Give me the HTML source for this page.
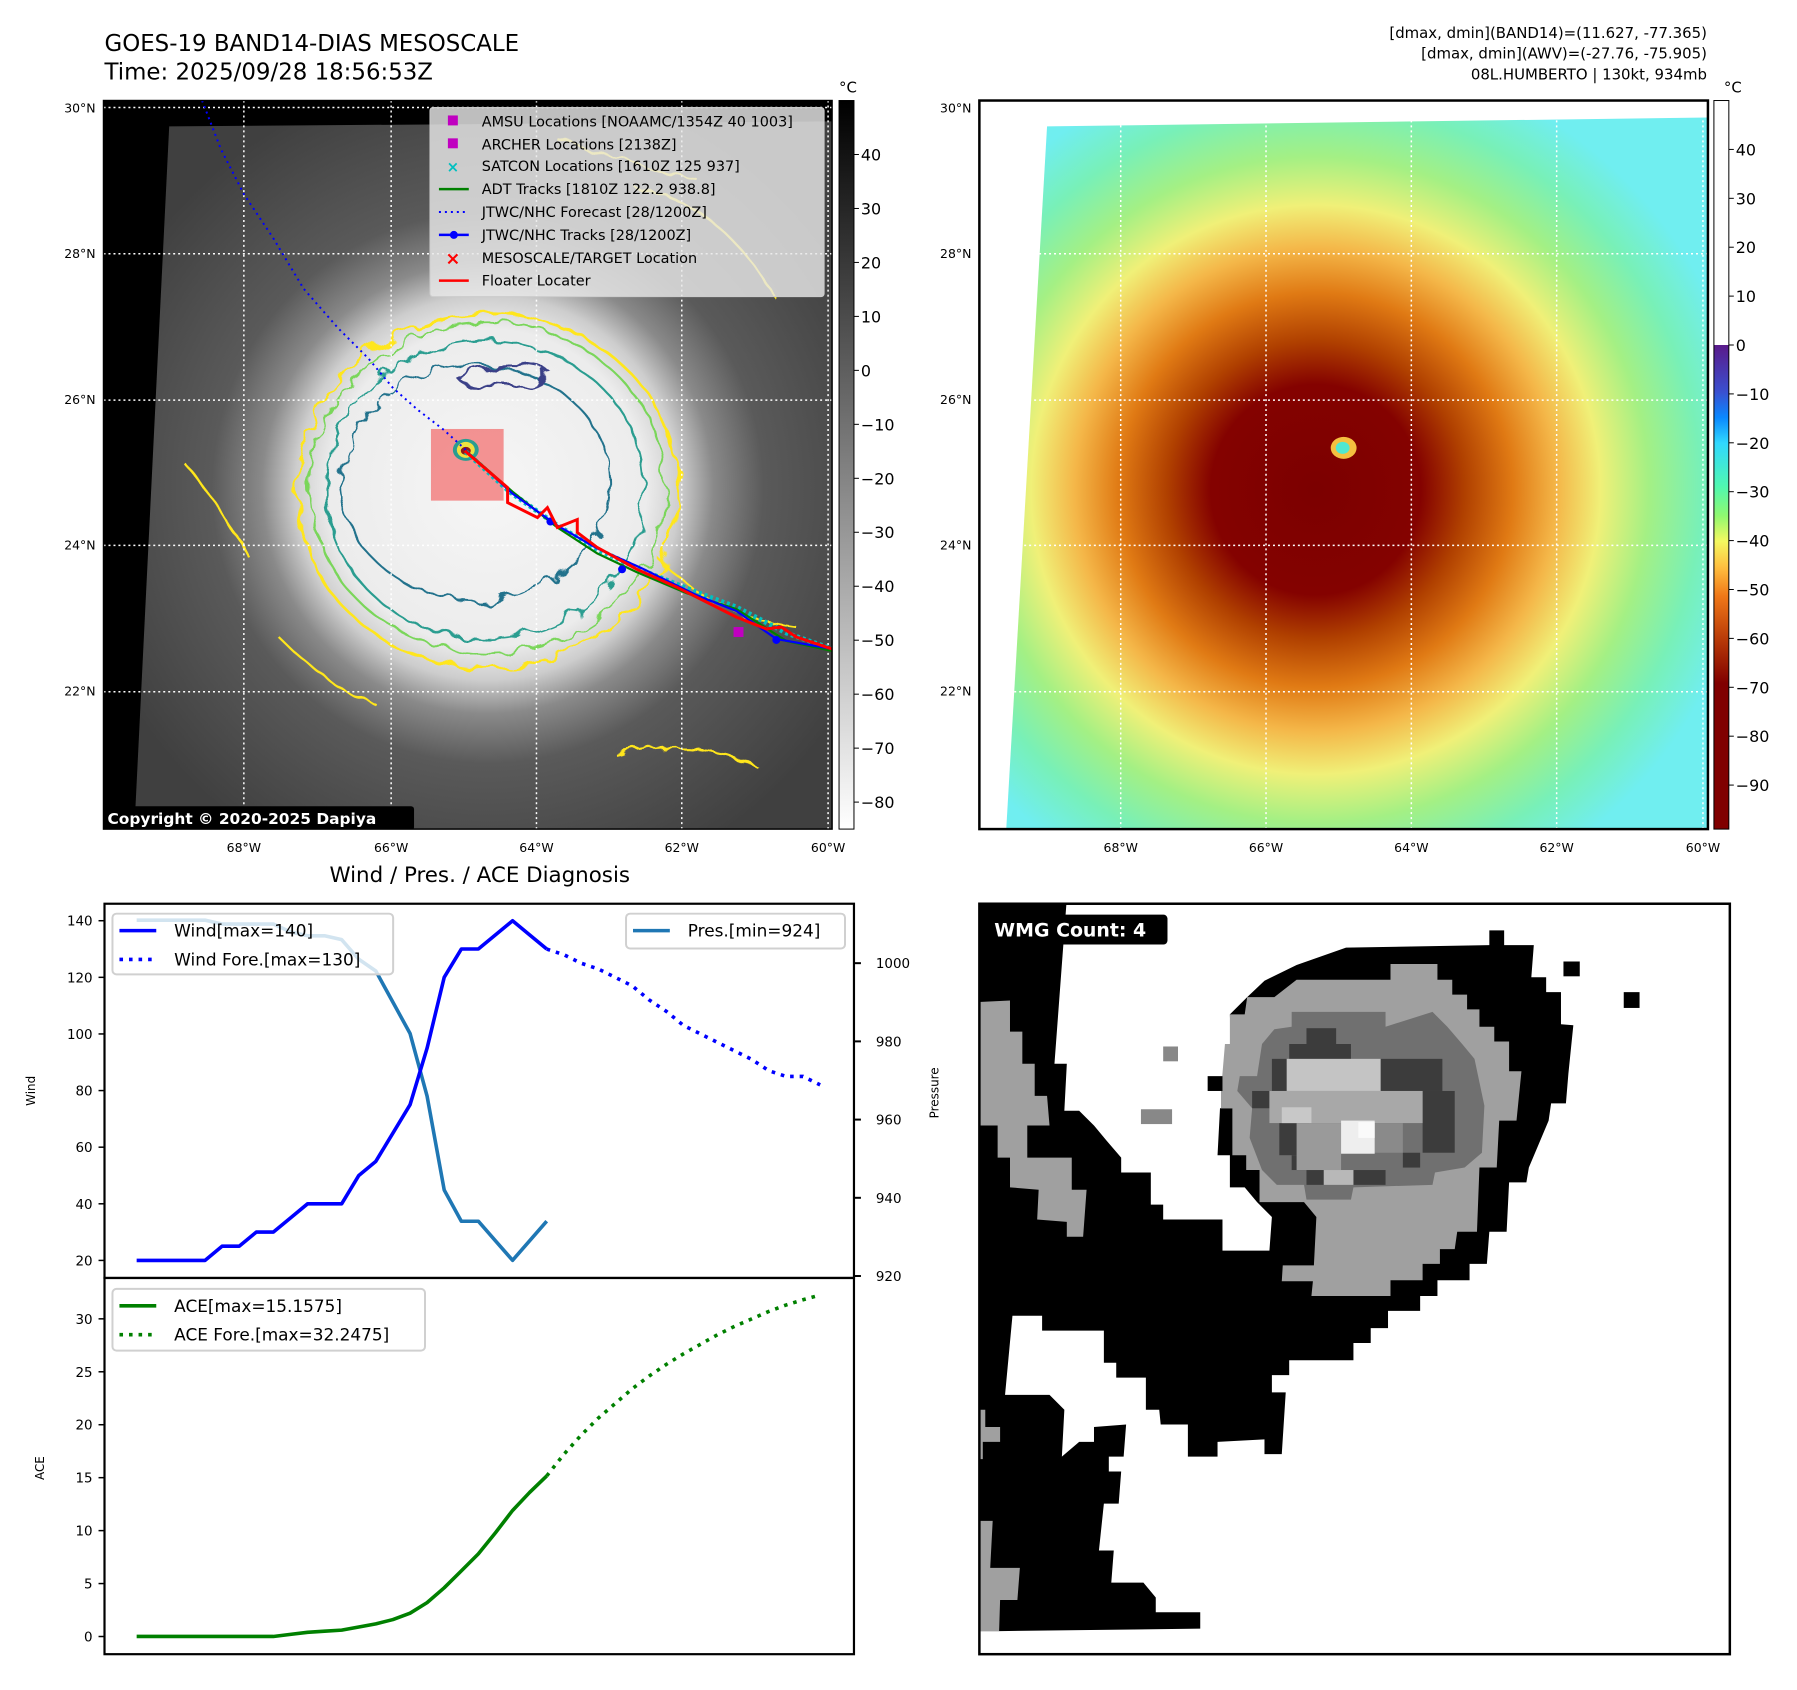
<!DOCTYPE html>
<html><head><meta charset="utf-8"><title>GOES-19 BAND14-DIAS MESOSCALE</title>
<style>
html,body{margin:0;padding:0;background:#fff;}
svg{display:block;font-family:"DejaVu Sans","Liberation Sans",sans-serif;}
</style></head>
<body>
<svg id="fig" width="1797" height="1690" viewBox="0 0 1797 1690" xmlns="http://www.w3.org/2000/svg">
<defs>
  <radialGradient id="irGrad" cx="490" cy="490" r="420" gradientUnits="userSpaceOnUse">
    <stop offset="0" stop-color="#f6f6f6"/>
    <stop offset="0.38" stop-color="#ececec"/>
    <stop offset="0.46" stop-color="#cdcdcd"/>
    <stop offset="0.54" stop-color="#8a8a8a"/>
    <stop offset="0.66" stop-color="#5a5a5a"/>
    <stop offset="1" stop-color="#404040"/>
  </radialGradient>
  <radialGradient id="awvGrad" cx="1322" cy="492" r="440" gradientUnits="userSpaceOnUse">
    <stop offset="0" stop-color="#7c0000"/>
    <stop offset="0.24" stop-color="#840200"/>
    <stop offset="0.34" stop-color="#b04000"/>
    <stop offset="0.45" stop-color="#e07a14"/>
    <stop offset="0.55" stop-color="#f4b648"/>
    <stop offset="0.65" stop-color="#f0f078"/>
    <stop offset="0.76" stop-color="#a4f084"/>
    <stop offset="0.88" stop-color="#78f0b8"/>
    <stop offset="1" stop-color="#70eef0"/>
  </radialGradient>
  <linearGradient id="cb1Grad" x1="0" y1="0" x2="0" y2="1">
    <stop offset="0" stop-color="#000"/><stop offset="1" stop-color="#fff"/>
  </linearGradient>
  <linearGradient id="cb2Grad" x1="0" y1="0" x2="0" y2="1">
    <stop offset="0" stop-color="#ffffff"/>
    <stop offset="0.3355" stop-color="#ffffff"/>
    <stop offset="0.3356" stop-color="#5a1a8a"/>
    <stop offset="0.40" stop-color="#3a50d0"/>
    <stop offset="0.435" stop-color="#0a88ff"/>
    <stop offset="0.47" stop-color="#30d8ff"/>
    <stop offset="0.53" stop-color="#50f8b0"/>
    <stop offset="0.57" stop-color="#90f870"/>
    <stop offset="0.605" stop-color="#f4f860"/>
    <stop offset="0.64" stop-color="#ffc040"/>
    <stop offset="0.68" stop-color="#f07818"/>
    <stop offset="0.74" stop-color="#b83a08"/>
    <stop offset="0.80" stop-color="#800000"/>
    <stop offset="1" stop-color="#800000"/>
  </linearGradient>
  <filter id="wig" x="-10%" y="-10%" width="120%" height="120%">
    <feTurbulence type="fractalNoise" baseFrequency="0.05" numOctaves="2" seed="3"/>
    <feDisplacementMap in="SourceGraphic" scale="18"/>
  </filter>
  <clipPath id="clip1"><rect x="104" y="101" width="732" height="732"/></clipPath>
  <clipPath id="clip2"><rect x="984" y="101" width="732" height="732"/></clipPath>
  <clipPath id="clipW"><rect x="105" y="908" width="753" height="376"/></clipPath>
  <clipPath id="clipA"><rect x="105" y="1284" width="753" height="378"/></clipPath>
  <clipPath id="clipG"><rect x="984" y="908" width="754" height="754"/></clipPath>
</defs>
<g transform="scale(0.9953)">
<!-- Titles -->
<text x="105" y="51" font-size="23" fill="#000">GOES-19 BAND14-DIAS MESOSCALE</text>
<text x="105" y="80" font-size="23" fill="#000">Time: 2025/09/28 18:56:53Z</text>
<g font-size="15" text-anchor="end" fill="#000">
  <text x="1715" y="38">[dmax, dmin](BAND14)=(11.627, -77.365)</text>
  <text x="1715" y="59">[dmax, dmin](AWV)=(-27.76, -75.905)</text>
  <text x="1715" y="80">08L.HUMBERTO | 130kt, 934mb</text>
</g>

<!-- MAP 1 (IR) -->
<g clip-path="url(#clip1)">
  <rect x="104" y="101" width="732" height="732" fill="#000"/>
  <polygon points="170,127 836,122 836,833 135,833" fill="url(#irGrad)"/>
  <g fill="none" filter="url(#wig)">
    <ellipse cx="490" cy="493" rx="192" ry="178" stroke="#ffe61a" stroke-width="2.6"/>
    <ellipse cx="490" cy="490" rx="178" ry="166" stroke="#7ad65a" stroke-width="2.2"/>
    <ellipse cx="488" cy="492" rx="160" ry="150" stroke="#2a9d90" stroke-width="2.2"/>
    <ellipse cx="478" cy="485" rx="135" ry="118" stroke="#22728c" stroke-width="2"/>
    <path d="M460,380 Q500,360 550,372 Q540,392 500,388 Q470,392 460,380Z" stroke="#3a3f88" stroke-width="2.5"/>
    <path d="M640,190 Q720,200 780,300 M660,560 Q720,620 800,630 M560,140 Q620,160 700,180" stroke="#ffe61a" stroke-width="2.2"/>
    <path d="M280,640 Q330,690 380,710 M190,470 Q230,520 250,560 M620,760 Q700,740 760,770" stroke="#ffe61a" stroke-width="2.2"/>
  </g>
  <rect x="433" y="431" width="73" height="72" fill="#f28080" opacity="0.85"/>
  <ellipse cx="468" cy="452" rx="13" ry="11" fill="#2a9d90"/>
  <ellipse cx="468" cy="452" rx="9" ry="8" fill="#f0e040"/>
  <ellipse cx="468" cy="453" rx="5" ry="4" fill="#8a1a1a"/>
  <g stroke="#fff" stroke-width="1.5" stroke-dasharray="2 3">
    <line x1="104" y1="108" x2="836" y2="108"/><line x1="104" y1="255" x2="836" y2="255"/>
    <line x1="104" y1="402" x2="836" y2="402"/><line x1="104" y1="548" x2="836" y2="548"/>
    <line x1="104" y1="695" x2="836" y2="695"/>
    <line x1="245" y1="101" x2="245" y2="833"/><line x1="393" y1="101" x2="393" y2="833"/>
    <line x1="539" y1="101" x2="539" y2="833"/><line x1="685" y1="101" x2="685" y2="833"/>
    <line x1="832" y1="101" x2="832" y2="833"/>
  </g>
  <polyline points="203,101 222,150 245,195 275,240 305,290 340,330 370,360 395,390 420,412 446,432 468,452" fill="none" stroke="#0000ff" stroke-width="2" stroke-dasharray="2 4"/>
  <polyline points="468,454 512,494 560,528 600,552 650,575 700,595 740,610 790,636 836,652" fill="none" stroke="#00c0c0" stroke-width="5" stroke-dasharray="3 3"/>
  <polyline points="468,453 515,494 560,530 600,556 640,575 690,596 740,612 790,644 836,654" fill="none" stroke="#008000" stroke-width="2.2"/>
  <polyline points="468,453 515,496 560,528 600,551 645,571 700,598 740,614 780,642 836,652" fill="none" stroke="#0000ff" stroke-width="2.2"/>
  <circle cx="553" cy="524" r="4" fill="#0000ff"/><circle cx="625" cy="572" r="4" fill="#0000ff"/><circle cx="780" cy="643" r="4" fill="#0000ff"/>
  <polyline points="467,453 510,490 510,505 540,520 550,510 560,530 580,522 580,535 600,550 640,572 680,590 720,610 740,620 770,632 785,630 800,640 836,652" fill="none" stroke="#ff0000" stroke-width="3"/>
  <rect x="737" y="630" width="10" height="10" fill="#c000c0"/>
  <g>
    <rect x="432" y="108" width="396" height="190" rx="3" fill="#e8e8e8" fill-opacity="0.82" stroke="#ccc"/>
    <g font-size="14.5" fill="#000">
      <rect x="450" y="116" width="10" height="10" fill="#c000c0"/><text x="484" y="127">AMSU Locations [NOAAMC/1354Z 40 1003]</text>
      <rect x="450" y="139" width="10" height="10" fill="#c000c0"/><text x="484" y="150">ARCHER Locations [2138Z]</text>
      <text x="455" y="173" text-anchor="middle" fill="#00c0c0" font-weight="bold" font-size="15">×</text><text x="484" y="172">SATCON Locations [1610Z 125 937]</text>
      <line x1="441" y1="190" x2="471" y2="190" stroke="#008000" stroke-width="2.5"/><text x="484" y="195">ADT Tracks [1810Z 122.2 938.8]</text>
      <line x1="441" y1="213" x2="471" y2="213" stroke="#0000ff" stroke-width="2" stroke-dasharray="2 4"/><text x="484" y="218">JTWC/NHC Forecast [28/1200Z]</text>
      <line x1="441" y1="236" x2="471" y2="236" stroke="#0000ff" stroke-width="2.5"/><circle cx="456" cy="236" r="4" fill="#0000ff"/><text x="484" y="241">JTWC/NHC Tracks [28/1200Z]</text>
      <text x="455" y="266" text-anchor="middle" fill="#ff0000" font-weight="bold" font-size="18">×</text><text x="484" y="264">MESOSCALE/TARGET Location</text>
      <line x1="441" y1="282" x2="471" y2="282" stroke="#ff0000" stroke-width="2.5"/><text x="484" y="287">Floater Locater</text>
    </g>
  </g>
  <rect x="104" y="810" width="312" height="24" rx="3" fill="#000"/>
  <text x="108" y="828" font-size="15.5" font-weight="bold" fill="#fff">Copyright © 2020-2025 Dapiya</text>
</g>
<rect x="104" y="101" width="732" height="732" fill="none" stroke="#000" stroke-width="1.5"/>

<g font-size="12.5" fill="#000" text-anchor="end">
  <text x="96" y="113">30°N</text><text x="96" y="259">28°N</text><text x="96" y="406">26°N</text><text x="96" y="552">24°N</text><text x="96" y="699">22°N</text>
</g>
<g font-size="12.5" fill="#000" text-anchor="middle">
  <text x="245" y="856">68°W</text><text x="393" y="856">66°W</text><text x="539" y="856">64°W</text><text x="685" y="856">62°W</text><text x="832" y="856">60°W</text>
</g>

<g id="cb1">
  <rect x="843" y="101" width="15" height="732" fill="url(#cb1Grad)" stroke="#000" stroke-width="1"/>
  <text x="852" y="93" font-size="15" text-anchor="middle">°C</text>
</g>

<!-- MAP 2 (AWV) -->
<g clip-path="url(#clip2)">
  <rect x="984" y="101" width="732" height="732" fill="#fff"/>
  <polygon points="1052,127 1716,118 1716,833 1011,833" fill="url(#awvGrad)"/>
  <ellipse cx="1350" cy="450" rx="13" ry="11" fill="#f4c040"/>
  <ellipse cx="1349" cy="450" rx="7" ry="6" fill="#50e8d0"/>
  <g stroke="#fff" stroke-width="1.5" stroke-dasharray="2 3">
    <line x1="984" y1="108" x2="1716" y2="108"/><line x1="984" y1="255" x2="1716" y2="255"/>
    <line x1="984" y1="402" x2="1716" y2="402"/><line x1="984" y1="548" x2="1716" y2="548"/>
    <line x1="984" y1="695" x2="1716" y2="695"/>
    <line x1="1126" y1="101" x2="1126" y2="833"/><line x1="1272" y1="101" x2="1272" y2="833"/>
    <line x1="1418" y1="101" x2="1418" y2="833"/><line x1="1564" y1="101" x2="1564" y2="833"/>
    <line x1="1711" y1="101" x2="1711" y2="833"/>
  </g>
</g>
<rect x="984" y="101" width="732" height="732" fill="none" stroke="#000" stroke-width="2.5"/>
<g font-size="12.5" fill="#000" text-anchor="end">
  <text x="976" y="113">30°N</text><text x="976" y="259">28°N</text><text x="976" y="406">26°N</text><text x="976" y="552">24°N</text><text x="976" y="699">22°N</text>
</g>
<g font-size="12.5" fill="#000" text-anchor="middle">
  <text x="1126" y="856">68°W</text><text x="1272" y="856">66°W</text><text x="1418" y="856">64°W</text><text x="1564" y="856">62°W</text><text x="1711" y="856">60°W</text>
</g>
<g id="cb2">
  <rect x="1722" y="101" width="15" height="732" fill="url(#cb2Grad)" stroke="#000" stroke-width="1"/>
  <text x="1741" y="93" font-size="15" text-anchor="middle">°C</text>
</g>

<text x="482" y="886" font-size="21.5" text-anchor="middle">Wind / Pres. / ACE Diagnosis</text>
<g id="ts"></g>
<text transform="translate(35,1096) rotate(-90)" font-size="12" text-anchor="middle">Wind</text>
<text transform="translate(44,1475) rotate(-90)" font-size="12" text-anchor="middle">ACE</text>
<text transform="translate(943,1098) rotate(-90)" font-size="12" text-anchor="middle">Pressure</text>

<!-- WMG panel -->
<g clip-path="url(#clipG)">
  <rect x="984" y="908" width="754" height="754" fill="#fff"/>
  <g transform="translate(980,900) scale(0.4965)">
    <polygon fill="#000" points="0,5 185,5 160,340 185,340 180,435 210,435 240,465 265,495 295,530 295,560 355,560 355,625 380,625 380,655 500,655 500,718 595,718 600,650 570,620 545,590 515,590 515,525 490,525 495,430 520,430 515,240 550,205 585,172 650,140 750,105 1040,100 1040,70 1070,70 1070,100 1130,100 1125,165 1155,165 1155,195 1185,195 1185,260 1210,262 1200,360 1195,420 1165,420 1160,455 1120,550 1115,580 1080,580 1075,680 1040,680 1035,745 1000,745 1000,778 935,778 935,810 900,810 900,840 835,840 835,875 800,875 800,905 765,905 765,940 635,940 635,970 600,970 600,1005 628,1005 620,1130 585,1130 585,1100 490,1105 490,1135 430,1135 430,1070 375,1070 372,1040 345,1040 345,975 285,975 285,945 260,945 260,880 135,880 135,850 75,850 60,1010 150,1010 180,1040 175,1135 210,1105 240,1105 240,1075 305,1070 300,1135 270,1135 270,1165 295,1165 290,1230 260,1230 250,1325 280,1325 275,1390 340,1390 365,1420 365,1450 455,1450 455,1483 50,1488 0,1488"/>
    <polygon fill="#a0a0a0" points="5,215 70,212 70,275 95,275 95,340 120,340 120,405 145,405 150,465 105,465 105,530 195,530 195,595 225,595 218,690 185,690 185,660 125,655 128,595 70,590 70,530 45,530 45,465 5,465"/>
    <polygon fill="#a0a0a0" points="0,1040 20,1040 20,1075 50,1075 50,1105 15,1105 15,1140 0,1140"/>
    <polygon fill="#a0a0a0" points="0,1205 8,1205 5,1265 35,1265 30,1360 90,1360 85,1425 50,1425 48,1488 0,1488"/>
    <polygon fill="#a0a0a0" points="545,240 550,205 605,205 650,170 840,170 840,138 935,138 935,170 965,170 965,200 995,200 995,230 1020,230 1020,265 1050,265 1050,295 1080,295 1080,355 1105,355 1095,455 1060,455 1055,550 1020,550 1015,680 975,680 970,715 940,715 940,745 905,745 905,778 840,778 840,810 680,810 683,780 620,780 622,748 685,748 690,650 665,620 575,620 575,555 548,555 548,525 520,525 520,430 497,430 497,395 505,300 515,300 515,240"/>
    <polygon fill="#707070" points="640,235 830,235 830,265 925,235 955,265 985,300 1010,330 1030,425 1025,520 990,550 930,560 925,585 765,590 760,615 670,615 665,585 610,585 580,555 555,490 560,430 530,395 535,365 570,365 580,300 605,270 640,265"/>
    <g fill="#3c3c3c">
      <rect x="670" y="268" width="60" height="32"/><rect x="635" y="300" width="125" height="32"/>
      <rect x="600" y="330" width="30" height="65"/><rect x="820" y="330" width="125" height="65"/>
      <rect x="905" y="395" width="65" height="125"/><rect x="615" y="460" width="60" height="65"/>
      <rect x="640" y="525" width="35" height="30"/><rect x="670" y="555" width="35" height="30"/>
      <rect x="765" y="555" width="65" height="30"/><rect x="865" y="520" width="35" height="30"/>
      <rect x="560" y="395" width="35" height="35"/>
    </g>
    <rect x="630" y="330" width="190" height="65" fill="#c4c4c4"/>
    <rect x="595" y="395" width="310" height="65" fill="#a8a8a8"/>
    <rect x="620" y="428" width="60" height="32" fill="#c8c8c8"/>
    <rect x="650" y="460" width="90" height="95" fill="#9a9a9a"/>
    <rect x="740" y="460" width="125" height="60" fill="#8a8a8a"/>
    <rect x="705" y="555" width="60" height="30" fill="#b8b8b8"/>
    <rect x="740" y="455" width="68" height="67" fill="#eeeeee"/>
    <rect x="775" y="458" width="33" height="32" fill="#fafafa"/>
    <rect x="380" y="305" width="30" height="30" fill="#888"/>
    <rect x="335" y="432" width="63" height="30" fill="#888"/>
    <rect x="470" y="365" width="30" height="30" fill="#000"/>
    <rect x="1190" y="133" width="33" height="30" fill="#000"/>
    <rect x="1312" y="195" width="32" height="32" fill="#000"/>
  </g>
  <rect x="987" y="919" width="186" height="30" rx="4" fill="#000"/>
  <text x="999" y="941" font-size="19" font-weight="bold" fill="#fff">WMG Count: 4</text>
</g>
<rect x="984" y="908" width="754" height="754" fill="none" stroke="#000" stroke-width="2.5"/>
</g>

<script>
// ---- chart data ----
const windIdx = [0,1,2,3,4,5,6,7,8,9,10,11,12,13,14,15,16,17,18,19,20,21,22,23,24];
const windVals = [20,20,20,20,20,25,25,30,30,35,40,40,40,50,55,65,75,95,120,130,130,135,140,135,130];
const windForeIdx = [24,25,26,27,28,29,30,31,32,33,34,35,36,37,38,39,40];
const windForeVals = [130,128,125,123,120,117,112,108,103,100,97,94,91,87,85,85,82];
const presVals = [1011,1011,1011,1011,1011,1010,1010,1010,1010,1008,1007,1007,1006,1001,998,990,982,966,942,934,934,929,924,929,934];
const aceVals = [0,0,0,0,0,0,0,0,0,0.2,0.4,0.5,0.6,0.9,1.2,1.6,2.2,3.2,4.6,6.2,7.8,9.8,11.9,13.6,15.16];
const aceForeVals = [15.16,17.2,19,20.6,22,23.4,24.6,25.7,26.7,27.6,28.5,29.3,30,30.7,31.3,31.8,32.25];
const windTicks = [20,40,60,80,100,120,140];
const presTicks = [920,940,960,980,1000];
const aceTicks = [0,5,10,15,20,25,30];
const cb1Ticks = [40,30,20,10,0,-10,-20,-30,-40,-50,-60,-70,-80];
const cb2Ticks = [40,30,20,10,0,-10,-20,-30,-40,-50,-60,-70,-80,-90];

const NS = 'http://www.w3.org/2000/svg';
const AX = {l:105, r:858, wt:908, wb:1284, at:1284, ab:1662};
const xDom = [-1.88, 41.98];
function xS(i){ return AX.l + (i - xDom[0]) / (xDom[1]-xDom[0]) * (AX.r-AX.l); }
function yWind(v){ return AX.wb - (v - 13.8) / (146 - 13.8) * (AX.wb-AX.wt); }
function yPres(v){ return AX.wb - (v - 919.5) / (1015.2 - 919.5) * (AX.wb-AX.wt); }
function yAce(v){ return AX.ab - (v + 1.67) / (33.86 + 1.67) * (AX.ab-AX.at); }
function yCb1(v){ return 101 + (50 - v) / 135 * 732; }
function yCb2(v){ return 101 + (50 - v) / 149 * 732; }

const ts = document.getElementById('ts');
function mk(tag, attrs, parent){
  const e = document.createElementNS(NS, tag);
  for (const k in attrs) e.setAttribute(k, attrs[k]);
  (parent||ts).appendChild(e);
  return e;
}
function pts(xs, ys, fy){ return xs.map((x,i)=>xS(x).toFixed(1)+','+fy(ys[i]).toFixed(1)).join(' '); }

let f1 = mk('rect',{x:AX.l,y:AX.wt,width:AX.r-AX.l,height:AX.wb-AX.wt,fill:'none',stroke:'#000','stroke-width':2.2});


let f2 = mk('rect',{x:AX.l,y:AX.at,width:AX.r-AX.l,height:AX.ab-AX.at,fill:'none',stroke:'#000','stroke-width':2.2});



windTicks.forEach(v=>{
  const y = yWind(v);
  mk('line',{x1:AX.l-6,x2:AX.l,y1:y,y2:y,stroke:'#000','stroke-width':1.5});
  const t = mk('text',{x:AX.l-12,y:y+5,'font-size':13.5,'text-anchor':'end'});
  t.textContent = v;
  
  
});
presTicks.forEach(v=>{
  const y = yPres(v);
  mk('line',{x1:AX.r,x2:AX.r+7,y1:y,y2:y,stroke:'#000','stroke-width':2});
  const t = mk('text',{x:AX.r+22,y:y+5,'font-size':13.5,'text-anchor':'start'});
  t.textContent = v;
  
  
});
aceTicks.forEach(v=>{
  const y = yAce(v);
  mk('line',{x1:AX.l-6,x2:AX.l,y1:y,y2:y,stroke:'#000','stroke-width':1.5});
  const t = mk('text',{x:AX.l-12,y:y+5,'font-size':13.5,'text-anchor':'end'});
  t.textContent = v;
  
  
});

const gW = mk('g',{'clip-path':'url(#clipW)'});
let pl = mk('polyline',{points:pts(windIdx,presVals,yPres),fill:'none',stroke:'#1f77b4','stroke-width':3.6,'stroke-linejoin':'round'},gW);


pl = mk('polyline',{points:pts(windIdx,windVals,yWind),fill:'none',stroke:'#0000ff','stroke-width':3.6,'stroke-linejoin':'round'},gW);


pl = mk('polyline',{points:pts(windForeIdx,windForeVals,yWind),fill:'none',stroke:'#0000ff','stroke-width':3.6,'stroke-dasharray':'3.6 6'},gW);



const gA = mk('g',{'clip-path':'url(#clipA)'});
pl = mk('polyline',{points:pts(windIdx,aceVals,yAce),fill:'none',stroke:'#008000','stroke-width':3.6,'stroke-linejoin':'round'},gA);


pl = mk('polyline',{points:pts(windForeIdx,aceForeVals,yAce),fill:'none',stroke:'#008000','stroke-width':3.6,'stroke-dasharray':'3.6 6'},gA);



function legend(x,y,w,h,items,name){
  const g = mk('g',{});
  
  
  mk('rect',{x:x,y:y,width:w,height:h,rx:4,fill:'#fff','fill-opacity':0.8,stroke:'#d0d0d0','stroke-width':2},g);
  items.forEach((it,k)=>{
    const yy = y+17+k*29;
    const ln = mk('line',{x1:x+7,x2:x+44,y1:yy,y2:yy,stroke:it.c,'stroke-width':3.6},g);
    if (it.d) ln.setAttribute('stroke-dasharray','3.6 6');
    const t = mk('text',{x:x+62,y:yy+6,'font-size':17},g);
    t.textContent = it.t;
  });
}
legend(113,918,282,61,[{c:'#0000ff',t:'Wind[max=140]'},{c:'#0000ff',d:1,t:'Wind Fore.[max=130]'}],'wind-legend');
legend(629,918,220,35,[{c:'#1f77b4',t:'Pres.[min=924]'}],'pressure-legend');
legend(113,1295,314,62,[{c:'#008000',t:'ACE[max=15.1575]'},{c:'#008000',d:1,t:'ACE Fore.[max=32.2475]'}],'ace-legend');

const cb1 = document.getElementById('cb1');
cb1Ticks.forEach(v=>{
  const y = yCb1(v);
  mk('line',{x1:858,x2:863,y1:y,y2:y,stroke:'#000','stroke-width':1},cb1);
  const t = mk('text',{x:865,y:y+6,'font-size':16},cb1);
  t.textContent = v < 0 ? '\u2212' + Math.abs(v) : v;
  
  
});
const cb2 = document.getElementById('cb2');
cb2Ticks.forEach(v=>{
  const y = yCb2(v);
  mk('line',{x1:1737,x2:1742,y1:y,y2:y,stroke:'#000','stroke-width':1},cb2);
  const t = mk('text',{x:1744,y:y+6,'font-size':16},cb2);
  t.textContent = v < 0 ? '\u2212' + Math.abs(v) : v;
  
  
});
</script>
</svg>
</body></html>
